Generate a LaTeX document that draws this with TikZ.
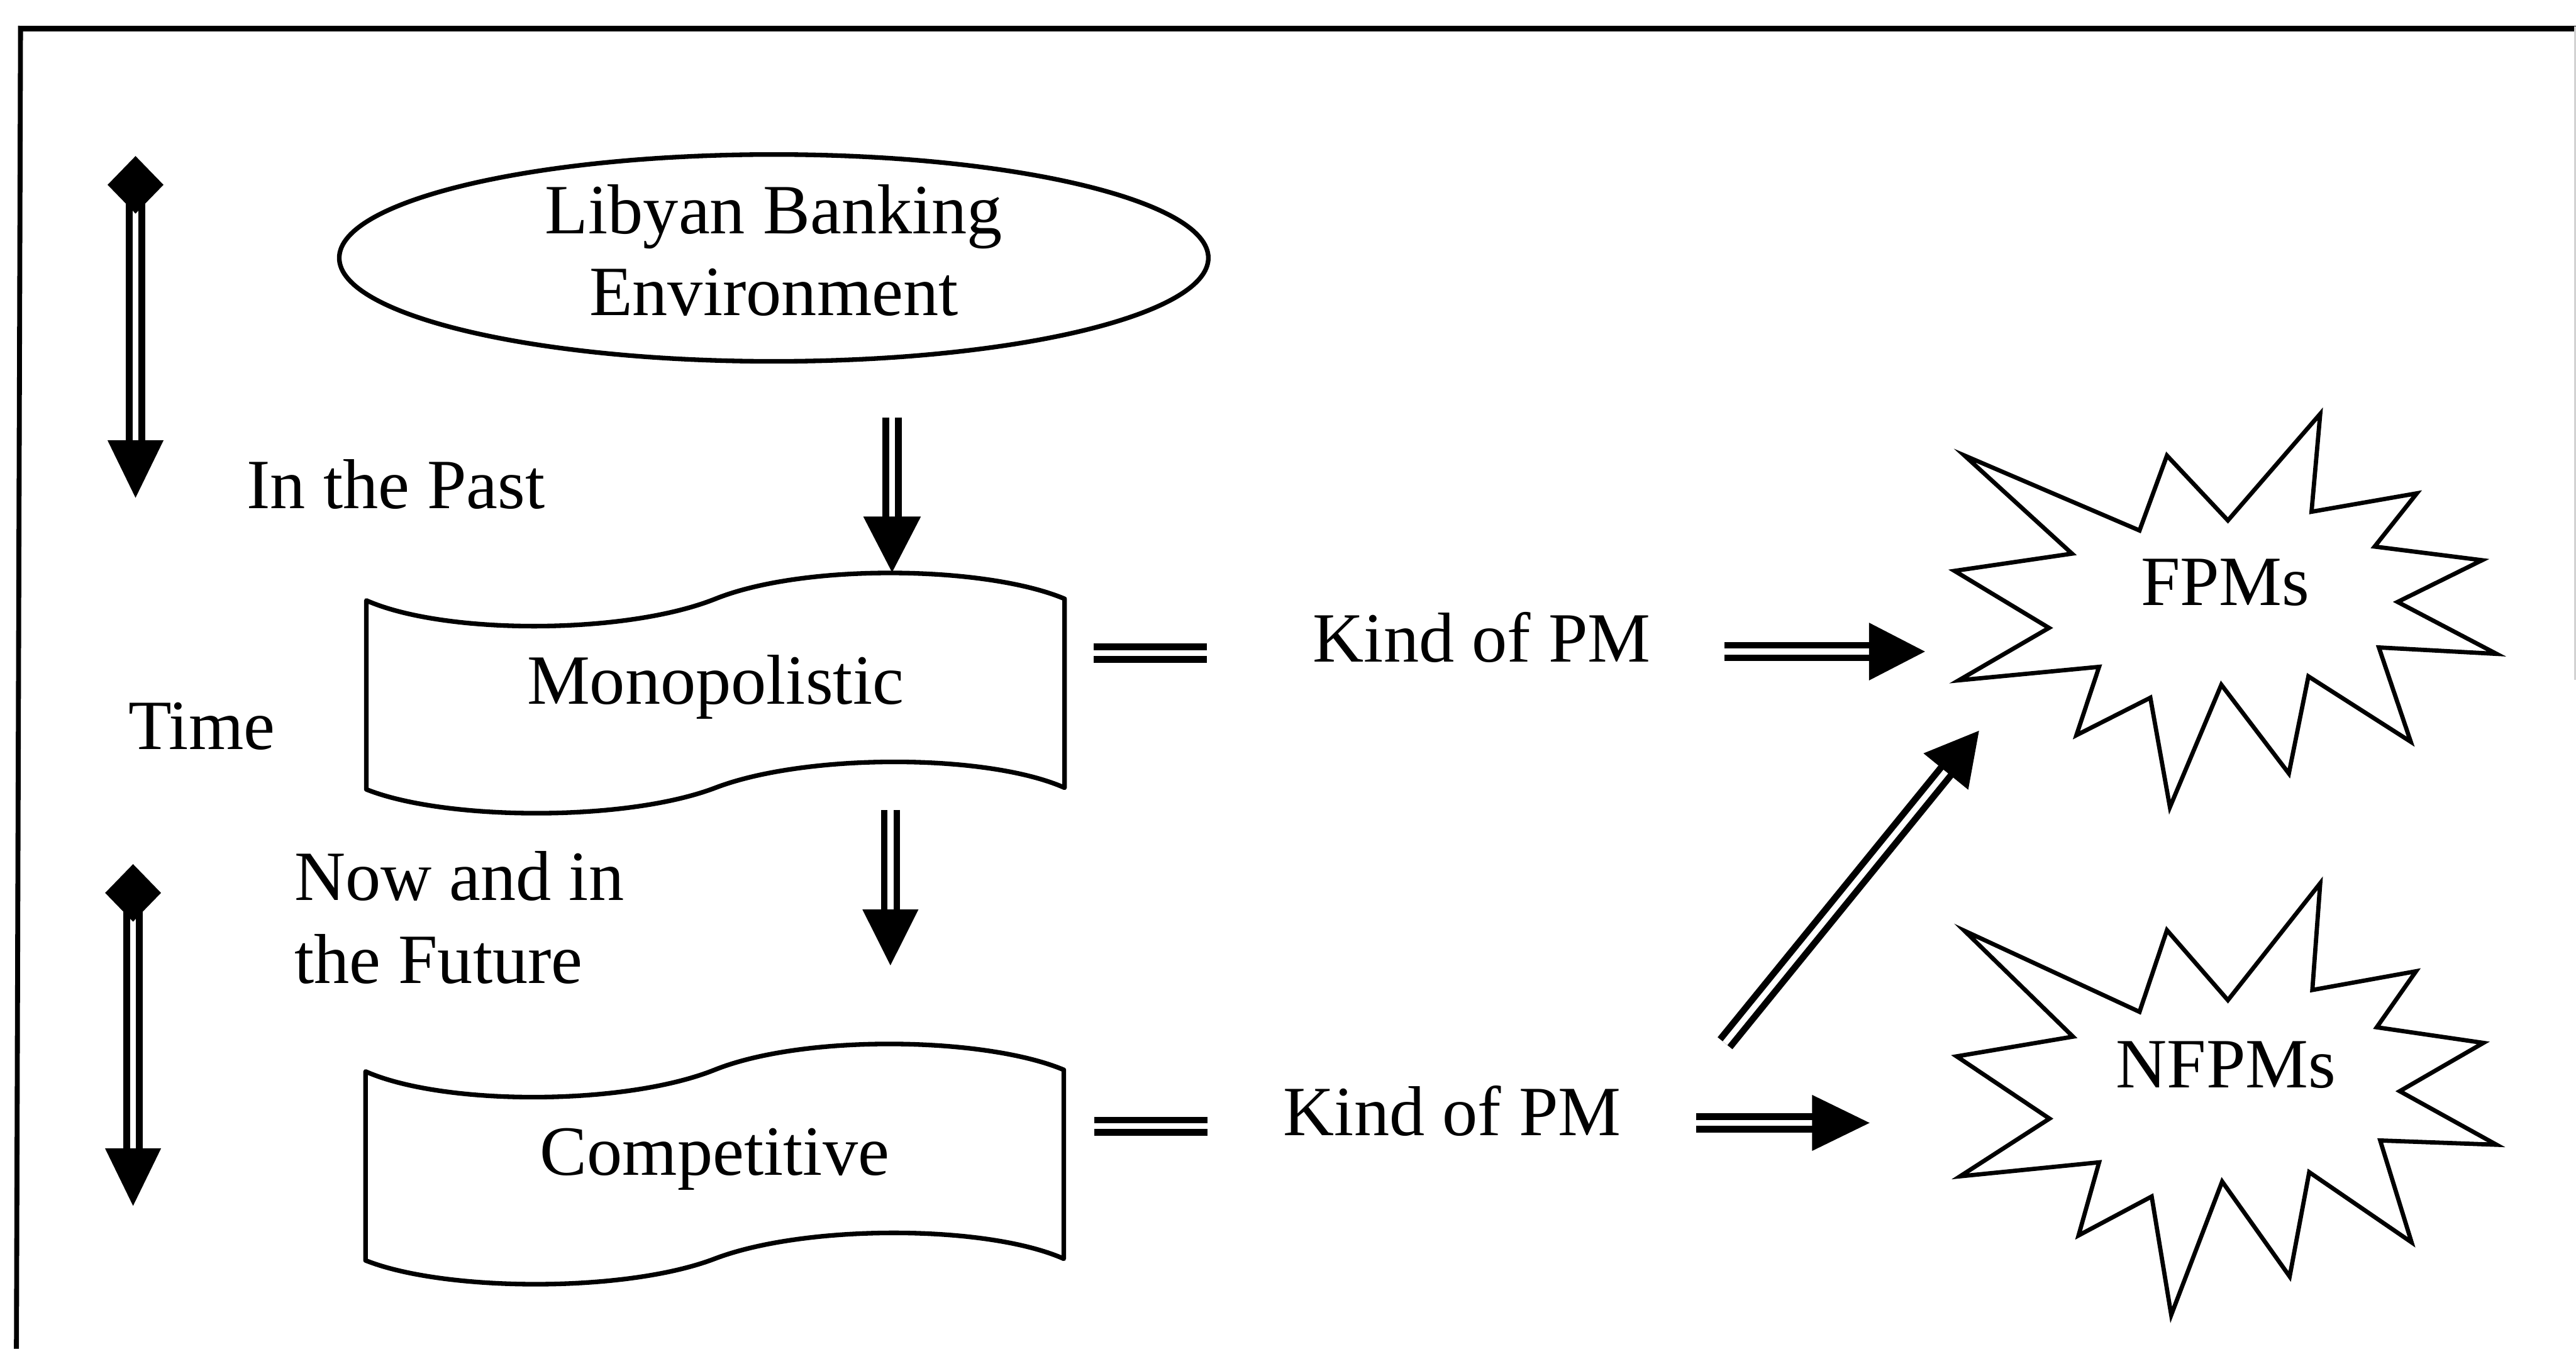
\documentclass[tikz,border=0pt]{standalone}
\usepackage{fontspec}
\setmainfont{Liberation Serif}
\usetikzlibrary{arrows.meta,shapes.geometric}
\begin{document}
\begin{tikzpicture}[x=1pt,y=-1pt,
  every node/.style={font=\fontsize{43}{49.6}\selectfont, inner sep=0pt},
  frameline/.style={draw=black, line width=3.5pt},
  outline/.style={draw=black, line width=2.8pt, line join=round},
  burst/.style={draw=black, line width=2.6pt, line join=miter},
  shaft/.style={draw=black, line width=4pt, double=white, double distance=3.6pt},
  fatarrow/.style 2 args={
    preaction={shaft, shorten >=#1-4pt, -},
    draw=white, line width=0.5pt,
    -{Triangle[length=#1, width=#2, color=black]}},
  timearrow/.style={
    preaction={shaft, shorten <=17pt, shorten >=31pt, -},
    draw=white, line width=0.5pt,
    {Diamond[length=35pt, width=34pt, color=black]}-{Triangle[length=35pt, width=34pt, color=black]}},
  tapebox/.style={rectangle, minimum width=425pt, minimum height=115pt,
    text height=30pt, text depth=17.6pt}
]
\useasboundingbox (0,0) rectangle (1568,821);

% frame
\draw[frameline] (11,17.4) -- (1568,17.4);
\draw[frameline, line width=3pt] (12.5,15.7) -- (10,821);
\draw[gray!35, line width=1pt] (1567.3,16) -- (1567.3,414);

% wavy banner outline around a given centre
\newcommand\wavyoutline[1]{%
  \begin{scope}[shift={(#1)}]
    \draw[outline] (-212.5,-57) .. controls (-165,-36) and (-55,-36) .. (0,-58)
      .. controls (55,-80) and (165,-78) .. (212.5,-58)
      -- (212.5,57) .. controls (165,36) and (55,36) .. (0,57)
      .. controls (-55,78) and (-165,77) .. (-212.5,58) -- cycle;
  \end{scope}}

% main nodes
\node[ellipse, draw=black, line width=2.8pt, minimum width=529pt, minimum height=124pt,
      align=center, text depth=9.6pt] (env) at (471,157) {Libyan Banking\\Environment};

\wavyoutline{435.5,422.5}
\node[tapebox] (mono) at (435.5,422.5) {Monopolistic};
\wavyoutline{435,709.2}
\node[tapebox] (comp) at (435,709.2) {Competitive};

% time labels
\node[anchor=base west] (past) at (150,309.6) {In the Past};
\node[anchor=base west] (time) at (78,456) {Time};
\node[anchor=base west] (now1) at (179,548) {Now and in};
\node[anchor=base west] (now2) at (179,598.4) {the Future};

% kinds of performance measures
\node[anchor=base west] (kind1) at (799,403) {Kind of PM};
\node[anchor=base west] (kind2) at (781,691) {Kind of PM};

% starbursts
\draw[burst] (1195.8,277.3) -- (1302.3,322.9) -- (1319.0,277.3) -- (1356.1,316.8)
  -- (1412.3,251.9) -- (1407.0,311.5) -- (1471.1,300.3) -- (1445.4,332.7)
  -- (1510.8,341.0) -- (1459.4,366.4) -- (1519.6,398.0) -- (1448.0,394.1)
  -- (1467.4,451.5) -- (1405.1,411.7) -- (1393.2,470.8) -- (1352.1,416.8)
  -- (1320.8,491.3) -- (1308.9,424.7) -- (1263.9,447.5) -- (1277.7,405.9)
  -- (1192.3,414.1) -- (1247.2,382.2) -- (1189.7,347.5) -- (1261.2,337.0) -- cycle;
\node[anchor=base] (fpm) at (1354.5,368.5) {FPMs};

\draw[burst] (1195.8,566.6) -- (1302.3,615.9) -- (1319.0,566.2) -- (1356.1,608.8)
  -- (1412.3,537.6) -- (1407.5,602.6) -- (1470.6,591.2) -- (1446.7,625.3)
  -- (1511.6,634.8) -- (1460.7,664.2) -- (1519.6,696.8) -- (1448.8,694.2)
  -- (1467.9,756.2) -- (1405.6,713.5) -- (1393.7,777.0) -- (1352.6,719.2)
  -- (1321.6,800.4) -- (1309.7,728.3) -- (1265.2,752.0) -- (1277.7,707.5)
  -- (1193.1,716.0) -- (1247.5,680.9) -- (1191.0,643.0) -- (1261.8,631.0) -- cycle;
\node[anchor=base] (nfpm) at (1355,661.9) {NFPMs};

% connector end points
\coordinate (envout) at (543,254);
\coordinate (monoin) at (543,348.4);
\coordinate (monoout) at (542,493);
\coordinate (compin) at (542,587.6);
\coordinate (eqa1) at (665.7,397.6);
\coordinate (eqb1) at (734.5,397.6);
\coordinate (eqa2) at (666,685.5);
\coordinate (eqb2) at (735,685.5);
\coordinate (k1out) at (1049.7,396.6);
\coordinate (fpmin) at (1171.7,396.6);
\coordinate (k2out) at (1032.3,683.5);
\coordinate (nfpmin) at (1138,683.5);
\coordinate (k2up) at (1050,635);
\coordinate (fpmlow) at (1204.6,444.8);
\coordinate (t1a) at (82.5,95);
\coordinate (t1b) at (82.5,303);
\coordinate (t2a) at (81,526);
\coordinate (t2b) at (81,734);

% connectors
\draw[fatarrow={34pt}{35pt}] (envout) -- (monoin);
\draw[fatarrow={34pt}{34pt}] (monoout) -- (compin);
\draw[shaft] (eqa1) -- (eqb1);
\draw[shaft] (eqa2) -- (eqb2);
\draw[fatarrow={34pt}{35pt}] (k1out) -- (fpmin);
\draw[fatarrow={35pt}{34pt}] (k2out) -- (nfpmin);
\draw[fatarrow={32pt}{35pt}] (k2up) -- (fpmlow);
\draw[timearrow] (t1a) -- (t1b);
\draw[timearrow] (t2a) -- (t2b);
\end{tikzpicture}
\end{document}
